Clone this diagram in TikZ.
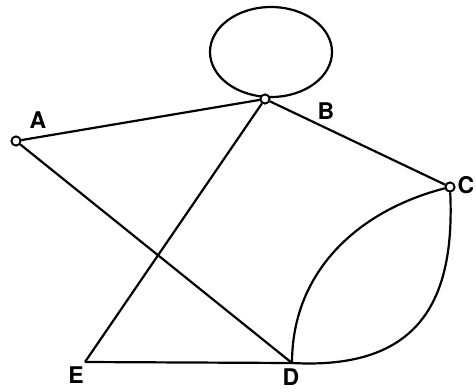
\documentclass[tikz,border=0pt]{standalone}
\usepackage{fontspec}
\setsansfont{TeX Gyre Heros}
\usetikzlibrary{calc}

\begin{document}
\begin{tikzpicture}[x=1pt,y=-1pt,
  vertex/.style={circle,draw,fill=white,line width=1.8pt,inner sep=0pt,minimum size=9pt},
  edge/.style={line width=2.2pt},
  lbl/.style={font=\sffamily\bfseries\fontsize{23}{25}\selectfont,inner sep=0pt}]
\useasboundingbox (0,0) rectangle (476,391);

\coordinate (lc) at (271,52);
\draw[edge] (lc) ellipse [x radius=61,y radius=45];

\node[vertex] (A) at (16,141) {};
\node[vertex] (B) at (265,99) {};
\node[vertex] (C) at (450,187) {};
\coordinate (D) at (292,363);
\coordinate (E) at (85,362);

\draw[edge] (A) -- (B);
\draw[edge] (A) -- (D);
\draw[edge] (B) -- (C);
\draw[edge] (B) -- (E);
\draw[edge] (E) -- (D);
\draw[edge] (C) .. controls (360,210) and (292,270) .. (D);
\draw[edge] (C) .. controls (455,300) and (420,370) .. (D);

\node[vertex] at (A) {};
\node[vertex] at (B) {};
\node[vertex] at (C) {};

\node[lbl] (lA) at (38,120) {A};
\node[lbl] (lB) at (326,111) {B};
\node[lbl] (lC) at (466,185) {C};
\node[lbl] (lD) at (291,377) {D};
\node[lbl] (lE) at (76,375) {E};

\end{tikzpicture}
\end{document}
